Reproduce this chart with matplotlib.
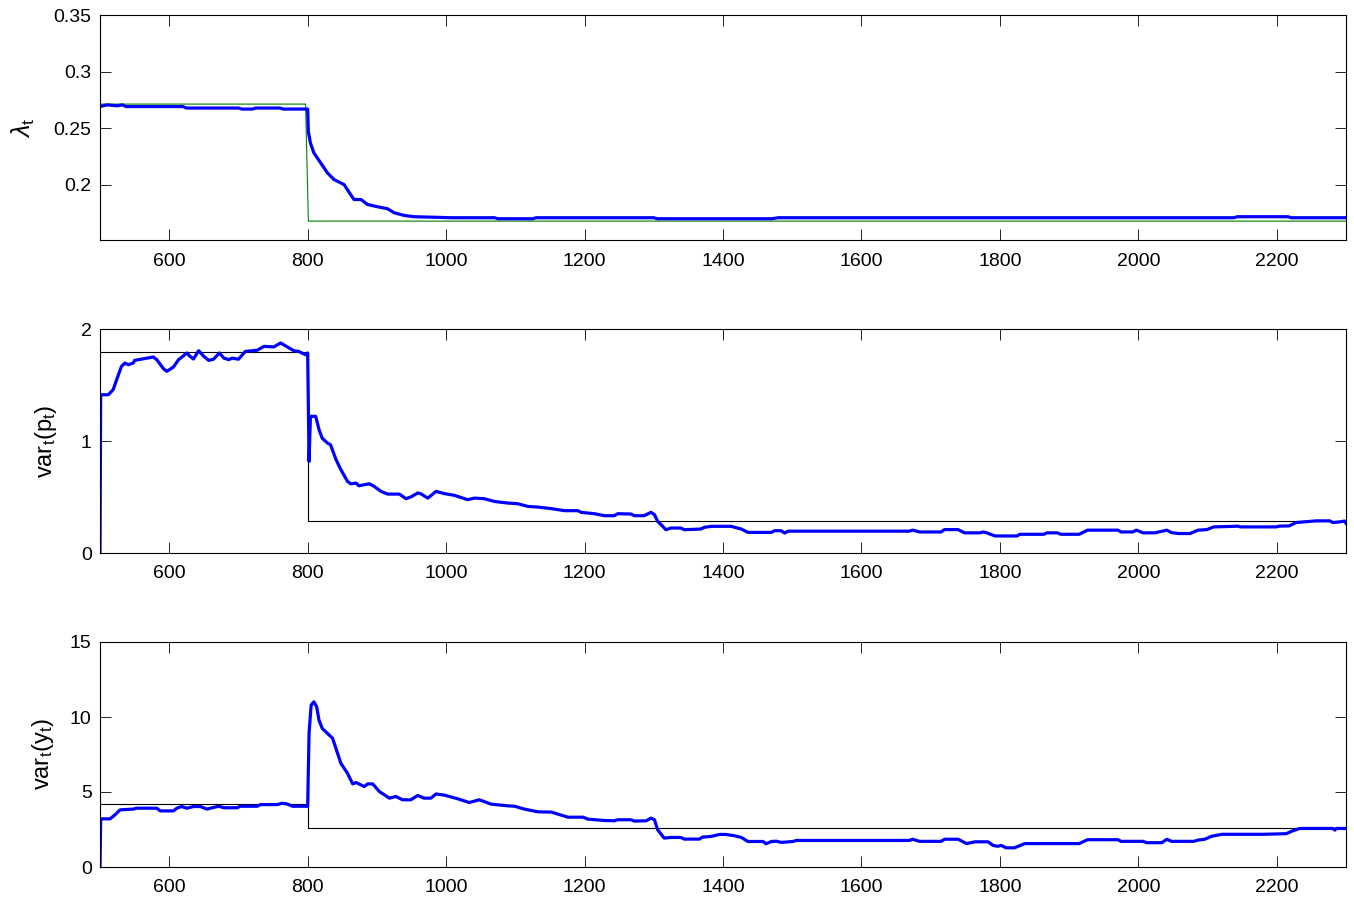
import matplotlib
matplotlib.use("Agg")
import matplotlib.pyplot as plt

plt.rcParams['font.family'] = ['Liberation Sans', 'DejaVu Sans']
plt.rcParams['mathtext.fontset'] = 'custom'
plt.rcParams['mathtext.rm'] = 'Liberation Sans'
plt.rcParams['mathtext.it'] = 'Liberation Sans:italic'

# ---- data: panel 1 (lambda_t) ----
lam_x = [500, 510, 525, 532, 538, 620, 625, 700, 705, 720, 725, 760, 765, 800,
         801, 804, 809, 819, 828.5, 838, 852.6, 862, 867, 877, 886.5, 901, 915.5,
         925, 939.5, 954, 1007, 1070, 1075, 1125, 1130, 1300, 1305, 1470, 1480,
         2138, 2143, 2216, 2221, 2300]
lam_y = [0.2690, 0.2705, 0.2697, 0.2705, 0.2690, 0.2690, 0.2677, 0.2677, 0.2668,
         0.2668, 0.2677, 0.2677, 0.2668, 0.2668,
         0.2470, 0.2368, 0.2280, 0.2190, 0.2104, 0.2045, 0.2000, 0.1912, 0.1868,
         0.1868, 0.1824, 0.1804, 0.1786, 0.1751, 0.1727, 0.1716, 0.1707, 0.1707,
         0.1698, 0.1698, 0.1707, 0.1707, 0.1698, 0.1698, 0.1707,
         0.1707, 0.1716, 0.1716, 0.1707, 0.1707]
lam_true_x = [500, 797, 801, 2300]
lam_true_y = [0.2712, 0.2712, 0.1677, 0.1677]

# ---- data: panel 2 (var_t(p_t)) ----
varp_x = [500, 501, 512, 519, 524, 531, 536, 541, 548, 550, 567.6, 577, 582, 592,
          596.6, 606, 613.5, 625.6, 630, 635, 642.5, 650, 657, 664, 672.5, 679,
          686, 691, 700, 710, 727, 737, 751, 761, 768, 780, 787, 797, 800, 802,
          804, 811.6, 816.5, 821, 828.5, 833, 841, 848, 857.5, 862, 870, 874, 889,
          896, 906, 915.5, 932.5, 942, 949, 959, 964, 973.5, 985.5, 997.6, 1012,
          1031, 1041, 1055, 1070, 1089, 1103.5, 1118, 1132.6, 1152, 1171, 1190.5,
          1195, 1214, 1229, 1243, 1248, 1267, 1272, 1286, 1296, 1301, 1305.6, 1313,
          1317.5, 1325, 1339, 1344, 1368, 1373, 1383, 1412, 1417, 1426.5, 1436,
          1470, 1474.5, 1484, 1489, 1494, 1669, 1674, 1684, 1715, 1720, 1739.6,
          1749, 1771, 1776, 1781, 1793, 1824.6, 1829, 1863.5, 1868, 1883, 1888,
          1914.5, 1926.6, 1970.5, 1975, 1992, 1997, 2007, 2024, 2041, 2048, 2058,
          2075, 2080, 2086.5, 2099, 2109, 2138, 2143, 2148, 2199, 2204, 2218, 2228,
          2240, 2257, 2276.5, 2281, 2291, 2298, 2300]
varp_y = [0.0, 1.413, 1.413, 1.458, 1.547, 1.666, 1.696, 1.681, 1.696, 1.720,
          1.740, 1.750, 1.726, 1.643, 1.622, 1.660, 1.726, 1.786, 1.756, 1.732,
          1.806, 1.756, 1.720, 1.730, 1.786, 1.740, 1.726, 1.740, 1.730, 1.800,
          1.810, 1.845, 1.840, 1.875, 1.850, 1.806, 1.800, 1.770, 1.786, 0.818,
          1.220, 1.220, 1.100, 1.025, 0.982, 0.967, 0.833, 0.744, 0.640, 0.618,
          0.624, 0.600, 0.618, 0.595, 0.550, 0.526, 0.526, 0.485, 0.500, 0.536,
          0.527, 0.490, 0.550, 0.530, 0.515, 0.476, 0.490, 0.485, 0.460, 0.446,
          0.440, 0.416, 0.410, 0.396, 0.378, 0.378, 0.363, 0.351, 0.333, 0.333,
          0.351, 0.348, 0.333, 0.333, 0.363, 0.342, 0.282, 0.238, 0.208, 0.223,
          0.223, 0.208, 0.214, 0.229, 0.238, 0.238, 0.229, 0.214, 0.184, 0.184,
          0.199, 0.199, 0.178, 0.195, 0.195, 0.204, 0.188, 0.188, 0.209, 0.209,
          0.180, 0.180, 0.188, 0.180, 0.152, 0.152, 0.167, 0.167, 0.180, 0.180,
          0.167, 0.167, 0.204, 0.204, 0.188, 0.188, 0.204, 0.180, 0.180, 0.204,
          0.182, 0.174, 0.174, 0.188, 0.204, 0.209, 0.233, 0.238, 0.240, 0.233,
          0.233, 0.240, 0.242, 0.272, 0.278, 0.287, 0.287, 0.272, 0.278, 0.285,
          0.265]
varp_true_x = [500, 800, 800, 800, 2300]
varp_true_y = [1.795, 1.795, 1.76, 0.29, 0.29]

# ---- data: panel 3 (var_t(y_t)) ----
vary_x = [500, 501, 514.5, 521.7, 529, 548, 553, 582, 587, 606, 611, 618, 625.6,
          635, 645, 654.6, 664, 671.5, 679, 698, 703, 727, 732, 756, 763, 770.5,
          778, 800, 802, 805, 809, 813, 816.4, 821, 831, 836, 848, 857.5, 865, 870,
          882, 886.5, 894, 903.6, 918, 927.5, 937, 949, 959, 968, 978, 985.5, 997.6,
          1016.6, 1033.4, 1048, 1065, 1089, 1099, 1113, 1132.6, 1152, 1162, 1176,
          1198, 1205, 1229, 1243, 1248, 1267, 1272, 1289, 1296, 1301, 1305.6, 1315,
          1325, 1339, 1344, 1366, 1370, 1383, 1395, 1404, 1417, 1426.5, 1436, 1458,
          1462, 1470, 1477, 1484, 1501, 1506, 1669, 1674, 1684, 1715, 1720, 1739.6,
          1752, 1764, 1783, 1790, 1797, 1802, 1809, 1821, 1836, 1914.5, 1926.6,
          1970.5, 1975, 2007, 2012, 2034, 2041, 2048, 2080, 2087, 2096, 2106, 2121,
          2179.5, 2213.6, 2223, 2233, 2281, 2284, 2286, 2300]
vary_y = [0.0, 3.21, 3.21, 3.48, 3.81, 3.86, 3.92, 3.92, 3.74, 3.74, 3.92, 4.03,
          3.92, 4.03, 4.03, 3.86, 3.97, 4.05, 3.95, 3.95, 4.05, 4.05, 4.16, 4.16,
          4.25, 4.20, 4.05, 4.05, 8.90, 10.79, 11.01, 10.68, 9.79, 9.24, 8.80, 8.58,
          6.91, 6.25, 5.54, 5.63, 5.36, 5.54, 5.54, 5.03, 4.59, 4.70, 4.48, 4.48,
          4.77, 4.59, 4.59, 4.87, 4.79, 4.55, 4.30, 4.48, 4.19, 4.08, 4.05, 3.86,
          3.68, 3.66, 3.52, 3.32, 3.32, 3.19, 3.10, 3.08, 3.15, 3.15, 3.06, 3.08,
          3.26, 3.15, 2.48, 1.93, 1.97, 1.97, 1.86, 1.86, 1.99, 2.04, 2.17, 2.17,
          2.08, 1.97, 1.70, 1.70, 1.55, 1.70, 1.72, 1.64, 1.70, 1.77, 1.77, 1.85,
          1.71, 1.71, 1.85, 1.85, 1.56, 1.68, 1.68, 1.44, 1.38, 1.44, 1.28, 1.28,
          1.56, 1.56, 1.82, 1.82, 1.71, 1.71, 1.62, 1.62, 1.85, 1.71, 1.71, 1.80,
          1.85, 2.05, 2.18, 2.18, 2.22, 2.41, 2.57, 2.57, 2.46, 2.57, 2.57]
vary_true_x = [500, 800, 800, 800, 2300]
vary_true_y = [4.19, 4.19, 5.43, 2.59, 2.59]

xticks = [600, 800, 1000, 1200, 1400, 1600, 1800, 2000, 2200]

W, H = 1354, 900
fig = plt.figure(figsize=(W / 100, H / 100), dpi=100)

def make_ax(top_px, bot_px):
    return fig.add_axes([100 / W, 1 - bot_px / H, 1246 / W, (bot_px - top_px) / H])

ax1 = make_ax(15, 240)
ax2 = make_ax(329, 553)
ax3 = make_ax(642, 867)

blue_lw = 2.3
thin_lw = 0.8

ax1.plot(lam_true_x, lam_true_y, color=(0, 0.5, 0), lw=thin_lw)
ax1.plot(lam_x, lam_y, color=(0, 0, 1), lw=blue_lw)
ax1.set_ylim(0.151, 0.35)
ax1.set_yticks([0.2, 0.25, 0.3, 0.35])
ax1.set_yticklabels(['0.2', '0.25', '0.3', '0.35'])
ax1.set_ylabel(r'$\lambda_{\mathrm{t}}$', fontsize=18, labelpad=12)

ax2.plot(varp_true_x, varp_true_y, color='black', lw=thin_lw)
ax2.plot(varp_x, varp_y, color=(0, 0, 1), lw=blue_lw)
ax2.set_ylim(0, 2)
ax2.set_yticks([0, 1, 2])
ax2.set_ylabel(r'var$_{\mathrm{t}}$(p$_{\mathrm{t}}$)', fontsize=17, labelpad=16)

ax3.plot(vary_true_x, vary_true_y, color='black', lw=thin_lw)
ax3.plot(vary_x, vary_y, color=(0, 0, 1), lw=blue_lw)
ax3.set_ylim(0, 15)
ax3.set_yticks([0, 5, 10, 15])
ax3.set_ylabel(r'var$_{\mathrm{t}}$(y$_{\mathrm{t}}$)', fontsize=17, labelpad=10)

for ax in (ax1, ax2, ax3):
    ax.set_xlim(500, 2300)
    ax.set_xticks(xticks)
    ax.tick_params(direction='in', top=True, right=True, length=8, width=0.6,
                   labelsize=14, pad=6)
    ax.tick_params(axis='x', pad=9)
    for s in ax.spines.values():
        s.set_linewidth(0.8)

fig.savefig('out.png', dpi=100)
